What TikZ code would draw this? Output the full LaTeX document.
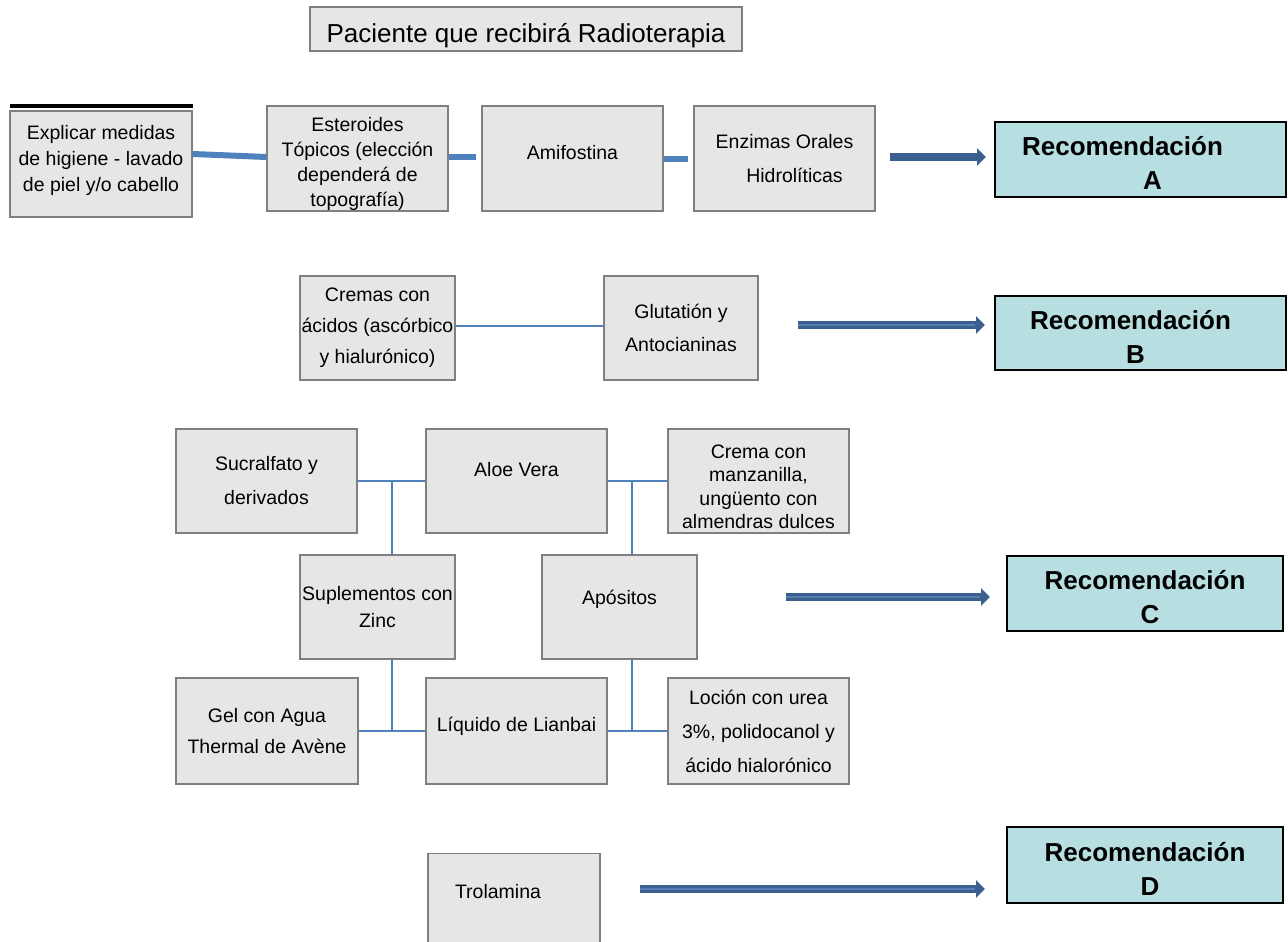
\documentclass[tikz,border=0pt]{standalone}
\usepackage{fontspec}
\setmainfont{Liberation Sans}
\usetikzlibrary{arrows.meta}
\definecolor{boxfill}{HTML}{E6E6E6}
\definecolor{boxline}{HTML}{7F7F7F}
\definecolor{recfill}{HTML}{B7DFE2}
\definecolor{linkc}{HTML}{4F81BD}
\definecolor{arrc}{HTML}{3B5F8F}
\definecolor{arrlight}{HTML}{587DB0}
\begin{document}
\begin{tikzpicture}[x=1pt,y=-1pt,
  box/.style={draw=boxline, fill=boxfill, line width=1.4pt, align=center, inner sep=0pt,
              font=\fontsize{19.5}{26}\selectfont},
  rec/.style={draw=black, fill=recfill, line width=1.4pt, align=center, inner sep=0pt,
              font=\bfseries\fontsize{26}{34}\selectfont},
  linkA/.style={draw=linkc, line width=6pt},
  linkB/.style={draw=linkc, line width=2.5pt},
  bigarrow/.style={draw=arrc, line width=8pt, -{Triangle[length=9pt,width=17pt]}},
  inner line/.style={postaction={draw=arrlight, line width=1.6pt, -, shorten >=10pt}},
]
\useasboundingbox (0,0) rectangle (1288,942);

% title
\node[box, minimum width=432pt, minimum height=44pt, font=\fontsize{26}{30}\selectfont]
  (title) at (526,29) {{}\\[2pt]Paciente que recibirá Radioterapia};

% row A
\draw[line width=4pt] (10,106) -- (193,106);
\node[box, minimum width=182pt, minimum height=106pt] (expl) at (101,164)
  {Explicar medidas\\de higiene - lavado\\de piel y/o cabello\\[-14pt]};
\node[box, minimum width=181pt, minimum height=105pt, font=\fontsize{19.5}{25}\selectfont] (ester) at (357.5,158.5)
  {{}\\[1pt]Esteroides\\Tópicos (elección\\dependerá de\\topografía)};
\node[box, minimum width=181pt, minimum height=105pt] (amif) at (572.5,158.5) {Amifostina\\[-14pt]};
\node[box, minimum width=181pt, minimum height=105pt, font=\fontsize{19.5}{34}\selectfont] (enz) at (784.5,158.5)
  {Enzimas Orales\\\hspace*{20pt}Hidrolíticas};
\node[rec, minimum width=291pt, minimum height=75pt] (recA) at (1140.5,159.5)
  {{}\\[-9pt]\hspace*{-36pt}Recomendación\\\hspace*{24pt}A};

\draw[linkA] ([yshift=10pt]expl.east) -- ([yshift=1.5pt]ester.west);
\draw[linkA, shorten >=5pt] ([yshift=1.5pt]ester.east) -- ([yshift=1.5pt]amif.west);
\draw[linkA, shorten >=5pt] ([yshift=-0.5pt]amif.east) -- ([yshift=-0.5pt]enz.west);
\coordinate (aA) at (890,157);
\coordinate (eA) at (986,157);
\draw[bigarrow] (aA) -- (eA);

% row B
\node[box, minimum width=155pt, minimum height=104pt, font=\fontsize{19.5}{31}\selectfont] (crem) at (377.5,328)
  {Cremas con\\ácidos (ascórbico\\y hialurónico)};
\node[box, minimum width=154pt, minimum height=104pt, font=\fontsize{19.5}{33}\selectfont] (glut) at (681,328)
  {Glutatión y\\Antocianinas};
\node[rec, minimum width=291pt, minimum height=74pt] (recB) at (1140.5,333)
  {{}\\[-7pt]\hspace*{-20pt}Recomendación\\\hspace*{-10pt}B};
\draw[linkB] ([yshift=2pt]crem.east) -- ([yshift=2pt]glut.west);
\coordinate (aB) at (798,325);
\coordinate (eB) at (985,325);
\draw[bigarrow, inner line] (aB) -- (eB);

% row C
\node[box, minimum width=181pt, minimum height=104pt, font=\fontsize{19.5}{34}\selectfont] (suc) at (266.5,481)
  {Sucralfato y\\derivados};
\node[box, minimum width=181pt, minimum height=104pt] (aloe) at (516.5,481) {Aloe Vera\\[-2pt]};
\node[box, minimum width=181pt, minimum height=104pt, font=\fontsize{19.5}{23.5}\selectfont] (crema) at (758.5,481)
  {{}\\[1.5pt]Crema con\\manzanilla,\\ungüento con\\almendras dulces};
\node[box, minimum width=155pt, minimum height=104pt, font=\fontsize{19.5}{27}\selectfont] (sup) at (377.5,607)
  {Suplementos con\\Zinc};
\node[box, minimum width=155pt, minimum height=104pt] (apos) at (619.5,607) {Apósitos\\[-6pt]};
\node[rec, minimum width=276pt, minimum height=75pt] (recC) at (1145,593.5)
  {{}\\[-8pt]Recomendación\\\hspace*{10pt}C};

\node[box, minimum width=182pt, minimum height=106pt, font=\fontsize{19.5}{31}\selectfont] (gel) at (267,731)
  {Gel con Agua\\Thermal de Avène};
\node[box, minimum width=181pt, minimum height=106pt] (liq) at (516.5,731) {Líquido de Lianbai\\[-12pt]};
\node[box, minimum width=181pt, minimum height=106pt, font=\fontsize{19.5}{34}\selectfont] (loc) at (758.5,731)
  {Loción con urea\\3\%, polidocanol y\\ácido hialorónico};

\draw[linkB] (suc.east) -- (aloe.west);
\coordinate (j1) at (392,481);
\draw[linkB] (j1) -- (j1 |- sup.north);
\draw[linkB] (aloe.east) -- (crema.west);
\coordinate (j2) at (632,481);
\draw[linkB] (j2) -- (j2 |- apos.north);
\draw[linkB] (gel.east) -- (liq.west);
\coordinate (j3) at (392,731);
\draw[linkB] (j3) -- (j3 |- sup.south);
\draw[linkB] (liq.east) -- (loc.west);
\coordinate (j4) at (632,731);
\draw[linkB] (j4) -- (j4 |- apos.south);

\coordinate (aC) at (786,597);
\coordinate (eC) at (990,597);
\draw[bigarrow, inner line] (aC) -- (eC);

% row D
\node[box, anchor=north, minimum width=172pt, text height=45pt, text depth=55pt] (trol) at (514,853) {Trolamina\hspace*{32pt}};
\node[rec, minimum width=276pt, minimum height=76pt] (recD) at (1145,865)
  {{}\\[-7pt]Recomendación\\\hspace*{10pt}D};
\coordinate (aD) at (640,889);
\coordinate (eD) at (985,889);
\draw[bigarrow, inner line] (aD) -- (eD);
\end{tikzpicture}
\end{document}
